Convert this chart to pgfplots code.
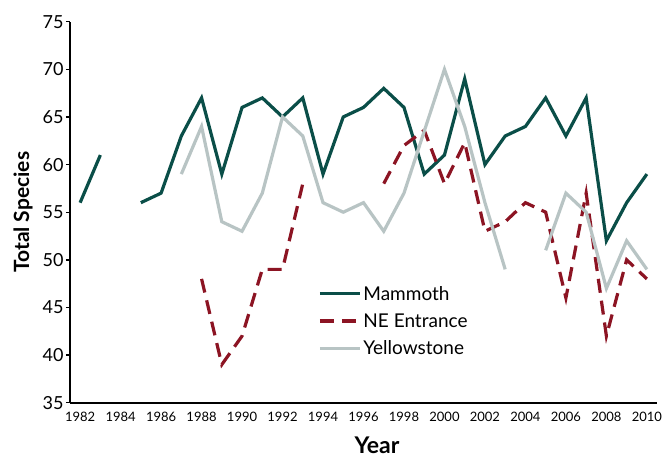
\documentclass[border=0pt]{standalone}
\usepackage{fontspec}
\setmainfont{Lato}
\usepackage{pgfplots}
\pgfplotsset{compat=1.18}
\definecolor{mammoth}{RGB}{10,78,72}
\definecolor{neent}{RGB}{140,20,35}
\definecolor{yellow}{RGB}{184,196,196}
\begin{document}
\begin{tikzpicture}
\begin{axis}[
  at={(0,0)}, anchor=south west,
  scale only axis, width=587pt, height=381pt,
  xmin=1981.5, xmax=2010.5, ymin=35, ymax=75,
  axis lines=left, axis line style={line width=1.6pt,-},
  unbounded coords=jump,
  xtick={1982,1984,...,2010},
  x tick style={draw=none},
  extra x ticks={1981.5,1983.5,...,2009.5},
  extra x tick labels={},
  extra x tick style={tick style={draw=black,line width=1.4pt}, major tick length=5pt, tick align=outside},
  ytick={35,40,...,75},
  y tick style={line width=1.4pt, black},
  tick align=outside, major tick length=4pt,
  /pgf/number format/1000 sep={},
  /pgf/number format/assume math mode=true,
  x tick label style={font=\fontsize{13}{15}\selectfont, yshift=-2pt},
  y tick label style={font=\fontsize{18}{20}\selectfont, xshift=1pt},
  xlabel={\textbf{Year}},
  ylabel={\textbf{Total Species}},
  xlabel style={font=\fontsize{23}{26}\selectfont, at={(axis description cs:0.523,0)}, anchor=center, yshift=-43pt},
  ylabel style={font=\fontsize{21}{24}\selectfont, at={(axis description cs:0,0.5)}, anchor=center, yshift=47pt},
  legend style={at={(0.4225,0.312)}, anchor=north west, draw=none, fill=none,
     font=\fontsize{19}{22}\selectfont, inner xsep=0pt, inner ysep=0pt, row sep=8pt},
  legend cell align=left,
  legend image code/.code={\draw[#1] (0pt,0pt) -- (40pt,0pt);},
  clip=false,
]
\addplot[mammoth, line width=3.2pt] table {
x y
1982 56
1983 61
1984 nan
1985 56
1986 57
1987 63
1988 67
1989 59
1990 66
1991 67
1992 65
1993 67
1994 59
1995 65
1996 66
1997 68
1998 66
1999 59
2000 61
2001 69
2002 60
2003 63
2004 64
2005 67
2006 63
2007 67
2008 52
2009 56
2010 59
};
\addlegendentry{Mammoth}
\addplot[neent, line width=3.2pt, dash pattern=on 14pt off 8pt] table {
x y
1988 48
1989 39
1990 42
1991 49
1992 49
1993 58
1994 nan
1997 58
1998 62
1999 63.6
2000 58
2001 62.3
2002 53
2003 54
2004 56
2005 55
2006 46
2007 57
2008 42
2009 50
2010 48
};
\addlegendentry{NE Entrance}
\addplot[yellow, line width=3.2pt] table {
x y
1987 59
1988 64
1989 54
1990 53
1991 57
1992 65
1993 63
1994 56
1995 55
1996 56
1997 53
1998 57
1999 63.5
2000 70
2001 64
2002 56
2003 49
2004 nan
2005 51
2006 57
2007 55
2008 47
2009 52
2010 49
};
\addlegendentry{Yellowstone}
\end{axis}
\pgfresetboundingbox
\path (-70pt,-55.3pt) rectangle (593pt,402.7pt);
\end{tikzpicture}
\end{document}
